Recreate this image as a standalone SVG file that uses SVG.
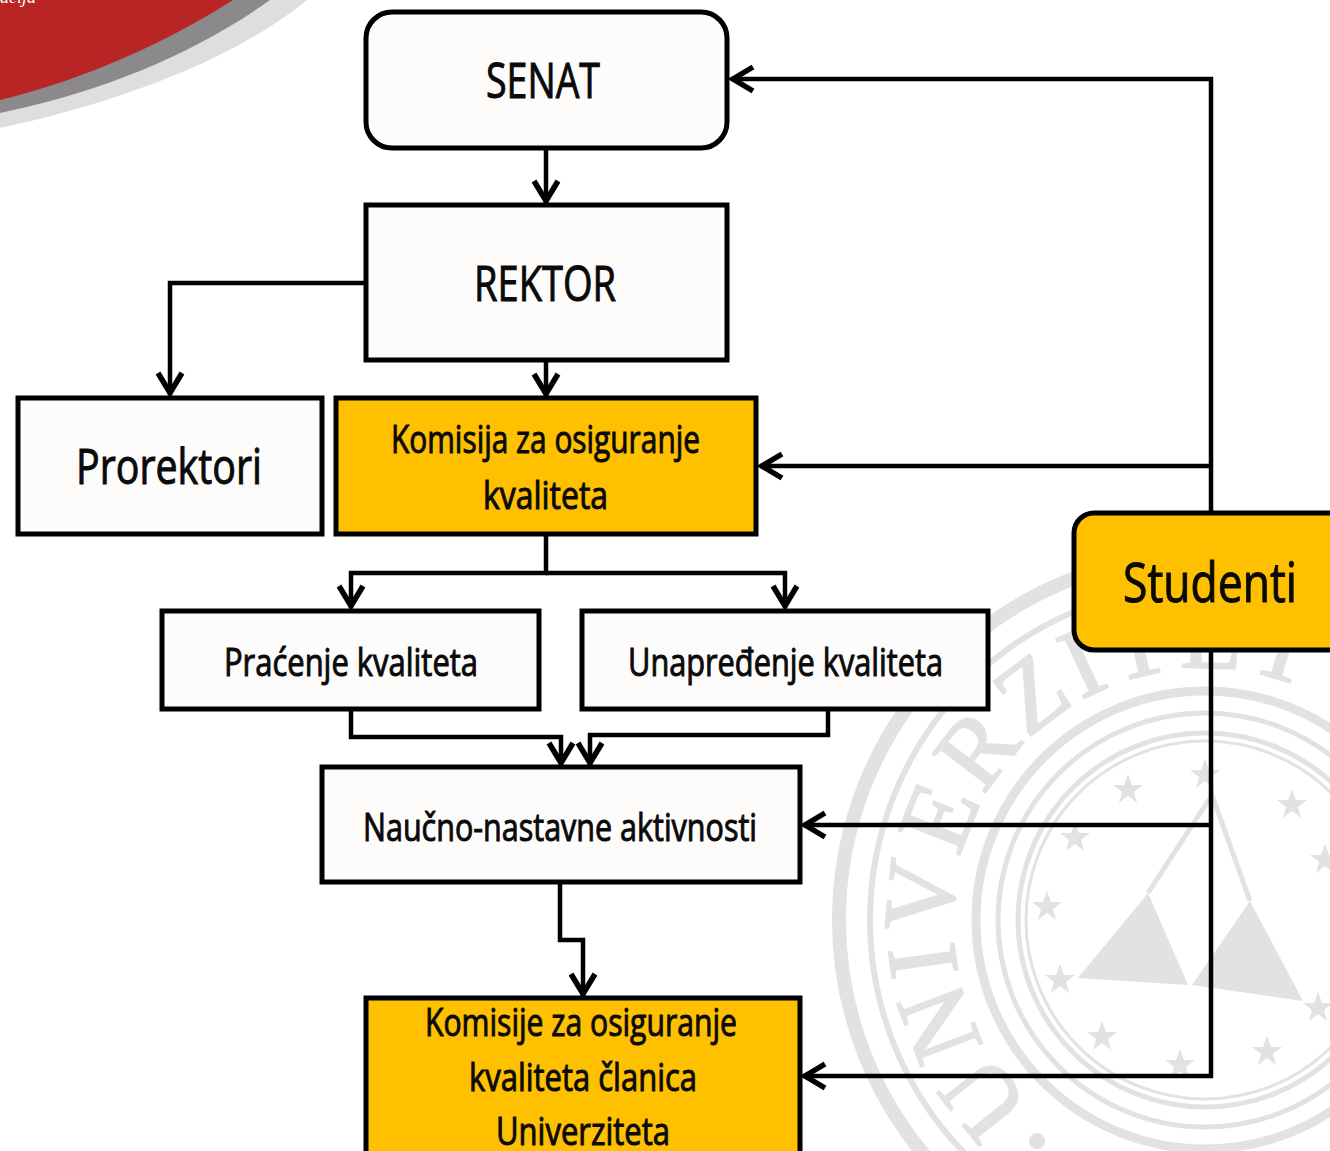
<svg xmlns="http://www.w3.org/2000/svg" xmlns:xlink="http://www.w3.org/1999/xlink" width="1330" height="1151" viewBox="0 0 1330 1151">
<style>
.box{fill:#fdfcfb;stroke:#000;stroke-width:5}
.gold{fill:#ffc000;stroke:#000;stroke-width:5}
.lbl{font-family:"Open Sans","Noto Sans","Liberation Sans",sans-serif;fill:#0a0a0a;stroke:#0a0a0a;stroke-width:1;text-anchor:start}
.con{fill:none;stroke:#000;stroke-width:4.5;marker-end:url(#arr)}
.ring{fill:none;stroke:#e2e2e2}
.st{fill:#e2e2e2}
</style>
<defs>
<marker id="arr" markerUnits="userSpaceOnUse" markerWidth="34" markerHeight="34" viewBox="-30 -17 34 34" refX="0" refY="0" orient="auto">
<path d="M-22-12 L-2 0 L-22 12" fill="none" stroke="#000" stroke-width="5.5"/>
</marker>
<path id="star" d="M0-16 L4-5 L15-5 L6 2 L9 13 L0 6 L-9 13 L-6 2 L-15-5 L-4-5Z"/>
<path id="seal" d="M1205 1172A252 252 0 1 1 1205 668A252 252 0 1 1 1205 1172"/>
</defs>
<rect width="1330" height="1151" fill="#fff"/>
<g id="corner">
<path d="M0 0H307C240 55 130 100 0 128Z" fill="#dedede"/>
<path d="M0 0H270C200 50 110 90 0 113Z" fill="#8b898b"/>
<path d="M0 0H233C170 40 90 78 0 100Z" fill="#b92525"/>
<text x="0" y="3" font-family="Liberation Serif,serif" font-size="18" font-style="italic" fill="#fff">acija</text>
</g>
<g id="watermark">
<circle class="ring" cx="1205" cy="920" r="366" stroke-width="14"/>
<circle class="ring" cx="1205" cy="920" r="335" stroke-width="6"/>
<circle class="ring" cx="1205" cy="920" r="229" stroke-width="9"/>
<circle class="ring" cx="1205" cy="920" r="207" stroke-width="5"/>
<circle class="ring" cx="1205" cy="920" r="187" stroke-width="5"/>
<circle class="ring" cx="1205" cy="920" r="179" stroke-width="3"/>
<text font-family="Liberation Serif,serif" font-size="100" fill="#e2e2e2" stroke="#e2e2e2" stroke-width="2" letter-spacing="5"><textPath xlink:href="#seal" href="#seal" startOffset="188">UNIVERZITET</textPath></text>
<circle cx="1037" cy="1141" r="8" fill="#e2e2e2"/>
<path class="st" d="M1078 978L1148 893L1188 985Z"/>
<path class="st" d="M1192 985L1250 901L1303 1001Z"/>
<path d="M1148 893L1212 795L1250 901" fill="none" stroke="#e2e2e2" stroke-width="5"/>
<use href="#star" class="st" x="1128" y="790"/><use href="#star" class="st" x="1205" y="775"/><use href="#star" class="st" x="1292" y="805"/><use href="#star" class="st" x="1325" y="860"/><use href="#star" class="st" x="1075" y="838"/><use href="#star" class="st" x="1047" y="907"/><use href="#star" class="st" x="1060" y="980"/><use href="#star" class="st" x="1102" y="1037"/><use href="#star" class="st" x="1180" y="1065"/><use href="#star" class="st" x="1267" y="1052"/><use href="#star" class="st" x="1318" y="1008"/>
</g>
<g id="connectors">
<path class="con" d="M1211 513V79H731"/>
<path class="con" d="M1211 466H760"/>
<path class="con" d="M1211 650V1076H803"/>
<path class="con" d="M1211 825H803"/>
<path class="con" d="M546 148V203"/>
<path class="con" d="M546 360V396"/>
<path class="con" d="M366 283H170V395"/>
<path class="con" d="M546 534V573H351V608"/>
<path class="con" d="M546 573H785V608"/>
<path class="con" d="M351 709V737H561V765"/>
<path class="con" d="M828 709V735H590V765"/>
<path class="con" d="M560 882V940H583V996"/>
</g>
<g id="senat"><rect class="box" x="366" y="12" width="361" height="136" rx="26"/><text class="lbl" x="486" y="98" font-size="50" textLength="114" lengthAdjust="spacingAndGlyphs">SENAT</text></g>
<g id="rektor"><rect class="box" x="366" y="205" width="361" height="155"/><text class="lbl" x="474" y="301" font-size="50" textLength="142" lengthAdjust="spacingAndGlyphs">REKTOR</text></g>
<g id="prorektori"><rect class="box" x="18" y="398" width="304" height="136"/><text class="lbl" x="76" y="484" font-size="50" textLength="186" lengthAdjust="spacingAndGlyphs">Prorektori</text></g>
<g id="komisija"><rect class="gold" x="336" y="398" width="420" height="136"/><text class="lbl" x="391" y="453" font-size="38" textLength="309" lengthAdjust="spacingAndGlyphs">Komisija za osiguranje</text><text class="lbl" x="483" y="509" font-size="38" textLength="125" lengthAdjust="spacingAndGlyphs">kvaliteta</text></g>
<g id="pracenje"><rect class="box" x="162" y="611" width="377" height="98"/><text class="lbl" x="224" y="676" font-size="38" textLength="254" lengthAdjust="spacingAndGlyphs">Praćenje kvaliteta</text></g>
<g id="unapredjenje"><rect class="box" x="582" y="611" width="406" height="98"/><text class="lbl" x="628" y="676" font-size="38" textLength="315" lengthAdjust="spacingAndGlyphs">Unapređenje kvaliteta</text></g>
<g id="nastava"><rect class="box" x="322" y="767" width="478" height="115"/><text class="lbl" x="363" y="841" font-size="38" textLength="394" lengthAdjust="spacingAndGlyphs">Naučno-nastavne aktivnosti</text></g>
<g id="clanice"><rect class="gold" x="366" y="998" width="434" height="170"/><text class="lbl" x="425" y="1036" font-size="38" textLength="312" lengthAdjust="spacingAndGlyphs">Komisije za osiguranje</text><text class="lbl" x="469" y="1091" font-size="38" textLength="228" lengthAdjust="spacingAndGlyphs">kvaliteta članica</text><text class="lbl" x="496" y="1145" font-size="38" textLength="174" lengthAdjust="spacingAndGlyphs">Univerziteta</text></g>
<g id="studenti"><rect class="gold" x="1074" y="513" width="280" height="137" rx="20"/><text class="lbl" x="1123" y="602" font-size="54" textLength="174" lengthAdjust="spacingAndGlyphs">Studenti</text></g>
</svg>
